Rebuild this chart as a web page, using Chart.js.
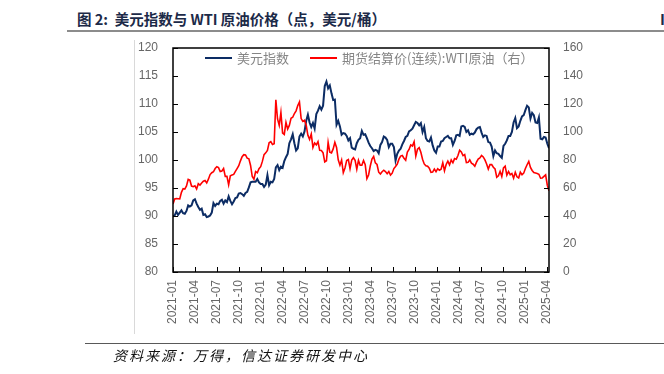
<!DOCTYPE html>
<html>
<head>
<meta charset="utf-8">
<script src="https://cdn.jsdelivr.net/npm/chart.js@4.4.1/dist/chart.umd.min.js"></script>
<style>
html, body { margin: 0; padding: 0; background: #fff; }
body { width: 664px; height: 374px; position: relative; overflow: hidden; font-family: "Noto Sans CJK SC", sans-serif; }
#title { position: absolute; left: 77px; top: 8px; font-size: 14.5px; font-weight: bold; color: #1c2a48; white-space: nowrap; }
#cut { position: absolute; left: 660px; top: 8px; font-size: 15px; font-weight: bold; color: #1c2a48; }
#topRule { position: absolute; left: 67px; top: 30px; width: 597px; height: 2px; background: #8c8c8c; }
#sideRule { position: absolute; left: 134px; top: 40px; width: 1px; height: 294px; background: #d9d9d9; }
#bottomRule { position: absolute; left: 85px; top: 343px; width: 579px; height: 1px; background: #595959; }
#source { position: absolute; left: 113px; top: 345px; font-size: 14px; letter-spacing: 2px; font-style: italic; color: #111; white-space: nowrap; }
#legend { position: absolute; left: 205px; top: 48px; font-size: 13px; color: #858585; white-space: nowrap; display: flex; align-items: center; }
#legend .key { display: inline-block; width: 27px; height: 2px; margin-right: 5px; }
#legend .txt { margin-right: 21px; }
canvas { position: absolute; left: 0; top: 0; }
</style>
</head>
<body>
<div id="title">图 2:&nbsp; 美元指数与 WTI 原油价格（点，美元/桶）</div>
<div id="cut">I</div>
<div id="topRule"></div>
<div id="sideRule"></div>
<canvas id="myChart" width="664" height="374"></canvas>
<div id="legend">
  <span class="key" style="background:#0c2c64"></span><span class="txt">美元指数</span>
  <span class="key" style="background:#ff0000"></span><span class="txt">期货结算价(连续):WTI原油（右）</span>
</div>
<div id="bottomRule"></div>
<div id="source">资料来源：万得，信达证券研发中心</div>

<script>
// 週次データ（2021-01-01 から毎週金曜日）
const seriesNames = ['美元指数', '期货结算价(连续):WTI原油（右）'];

const dxy = [
  // 2021
  89.9, 90.1, 90.8, 90.2, 90.6, 91.0, 90.5, 90.4, 90.9, 91.9,
  91.7, 91.9, 92.8, 93.0, 92.2, 91.6, 91.1, 91.3, 90.2, 90.3,
  89.8, 89.9, 90.1, 90.6, 92.3, 91.8, 92.2, 92.1, 92.7, 92.9,
  92.2, 92.8, 92.5, 93.5, 92.7, 92.1, 92.6, 93.2, 93.3, 94.0,
  94.1, 93.9, 93.6, 94.1, 94.3, 95.1, 96.0, 96.1, 96.1, 96.1,
  96.6, 96.0, 95.7,
  // 2022
  95.7, 95.2, 95.6, 97.3, 95.5, 96.1, 96.0, 96.6, 98.7, 99.1,
  98.2, 98.8, 98.6, 99.8, 100.5, 101.1, 103.0, 103.7, 104.6, 103.0,
  101.7, 102.1, 104.2, 104.7, 104.2, 105.1, 107.0, 108.1, 106.7, 105.9,
  106.6, 105.6, 108.2, 108.8, 109.6, 109.0, 109.7, 113.2, 114.0, 112.8,
  113.3, 111.9, 110.7, 110.8, 106.3, 107.0, 106.0, 104.5, 104.8, 104.7,
  104.3, 103.5,
  // 2023
  103.9, 102.2, 102.0, 101.9, 103.0, 103.6, 103.9, 105.2, 104.5, 104.6,
  103.9, 103.1, 102.5, 102.1, 101.6, 101.8, 101.7, 101.2, 102.7, 103.2,
  104.2, 104.0, 103.6, 102.3, 102.9, 102.9, 102.3, 99.9, 101.1, 101.7,
  102.0, 102.8, 103.4, 104.1, 104.3, 105.1, 105.3, 105.6, 106.2, 106.8,
  106.6, 106.2, 106.6, 105.0, 105.9, 103.9, 103.4, 103.3, 104.0, 102.6,
  101.7, 101.3,
  // 2024
  102.4, 102.4, 103.3, 103.4, 103.9, 104.1, 104.3, 103.9, 103.9, 102.7,
  103.4, 104.4, 104.5, 104.3, 106.0, 106.1, 105.9, 105.0, 105.3, 104.5,
  104.7, 104.6, 104.9, 105.5, 105.8, 105.9, 104.9, 104.1, 104.4, 104.3,
  103.2, 103.1, 102.4, 100.7, 101.7, 101.2, 101.1, 100.7, 100.4, 102.5,
  102.9, 103.5, 104.3, 104.3, 105.0, 106.7, 107.5, 105.7, 106.0, 107.0,
  107.8, 108.0,
  // 2025
  108.9, 109.7, 109.4, 107.4, 108.4, 108.0, 106.7, 106.6, 107.6, 103.8,
  103.7, 104.1, 104.0, 102.9, 102.1
];

const wti = [
  // 2021
  48.5, 52.2, 52.4, 52.3, 52.2, 56.9, 59.5, 59.2, 61.5, 66.1,
  65.6, 61.4, 60.9, 61.5, 59.3, 63.1, 62.1, 63.6, 64.9, 65.4,
  63.6, 66.3, 69.6, 70.9, 71.6, 73.9, 75.2, 74.6, 71.8, 72.1,
  73.9, 68.3, 68.4, 62.3, 68.7, 69.3, 69.7, 71.9, 73.9, 75.9,
  79.4, 82.3, 83.8, 83.6, 81.3, 80.8, 76.1, 68.2, 66.3, 71.7,
  70.9, 73.8, 75.2,
  // 2022
  79.0, 83.8, 85.1, 86.8, 92.3, 93.1, 91.1, 91.6, 123.0, 109.3,
  104.7, 113.9, 99.3, 98.3, 106.9, 102.1, 104.7, 109.8, 110.5, 113.2,
  115.1, 118.9, 121.5, 109.6, 107.6, 108.4, 104.8, 97.6, 94.7, 98.6,
  89.0, 92.1, 90.8, 93.1, 86.9, 86.8, 85.1, 78.7, 79.5, 92.6,
  85.6, 85.1, 87.9, 92.6, 89.0, 80.1, 76.3, 80.0, 71.0, 74.3,
  79.6, 80.3,
  // 2023
  73.8, 79.9, 81.6, 79.7, 73.4, 79.7, 76.3, 76.3, 79.7, 76.7,
  66.7, 69.3, 75.7, 80.7, 82.5, 77.9, 76.8, 71.3, 70.0, 71.6,
  72.7, 71.7, 70.2, 71.8, 69.2, 70.6, 73.9, 75.4, 77.1, 80.6,
  82.8, 83.2, 81.3, 79.8, 85.6, 87.5, 90.8, 90.0, 93.0, 82.8,
  87.7, 88.8, 85.5, 80.5, 77.2, 75.9, 75.5, 74.1, 71.2, 71.4,
  73.6, 71.7,
  // 2024
  73.8, 72.7, 73.4, 78.0, 72.3, 76.8, 79.2, 76.5, 80.0, 78.0,
  81.0, 80.6, 83.2, 86.9, 85.7, 83.1, 83.9, 78.1, 78.3, 80.1,
  77.7, 77.0, 75.5, 78.5, 80.7, 81.5, 83.2, 82.2, 80.1, 77.2,
  73.5, 76.8, 76.7, 74.8, 73.6, 67.7, 68.7, 71.9, 68.2, 74.4,
  75.6, 69.2, 71.8, 69.5, 70.4, 67.0, 71.2, 68.0, 67.2, 71.3,
  69.5, 70.6,
  // 2025
  73.9, 76.6, 79.0, 74.7, 72.5, 71.0, 70.7, 70.4, 69.8, 67.0,
  67.2, 68.3, 69.4, 62.0, 58.0
];

// x軸の目盛り（四半期ごと）
const quarterLabels = [
  '2021-01', '2021-04', '2021-07', '2021-10',
  '2022-01', '2022-04', '2022-07', '2022-10',
  '2023-01', '2023-04', '2023-07', '2023-10',
  '2024-01', '2024-04', '2024-07', '2024-10',
  '2025-01', '2025-04'
];

const weekInMonths = 7 / 30.4375;   // 1週 = 何か月
const xMax = (dxy.length - 1) * weekInMonths;

const toPoints = arr => arr.map((v, i) => ({ x: i * weekInMonths, y: v }));

const tickColor = '#666';
const tickFont = { family: 'Liberation Sans', size: 12 };

// 枠線と内向きの目盛り線
const frameTicks = {
  id: 'frameTicks',
  afterDatasetsDraw(chart) {
    const { ctx, chartArea: a, scales } = chart;
    ctx.save();
    ctx.strokeStyle = '#000';
    ctx.lineWidth = 1;
    ctx.beginPath();
    scales.y.ticks.forEach(t => {
      const p = Math.round(scales.y.getPixelForValue(t.value)) + 0.5;
      ctx.moveTo(a.left, p); ctx.lineTo(a.left + 5, p);
    });
    scales.y1.ticks.forEach(t => {
      const p = Math.round(scales.y1.getPixelForValue(t.value)) + 0.5;
      ctx.moveTo(a.right - 5, p); ctx.lineTo(a.right, p);
    });
    scales.x.ticks.forEach(t => {
      const p = Math.round(scales.x.getPixelForValue(t.value)) + 0.5;
      ctx.moveTo(p, a.bottom); ctx.lineTo(p, a.bottom - 5);
    });
    ctx.stroke();
    ctx.lineWidth = 1.5;
    ctx.strokeRect(a.left, a.top, a.right - a.left, a.bottom - a.top);
    ctx.restore();
  }
};

const ctx = document.getElementById('myChart').getContext('2d');
new Chart(ctx, {
  type: 'line',
  data: {
    datasets: [
      {
        label: seriesNames[0],
        data: toPoints(dxy),
        borderColor: '#0c2c64',
        backgroundColor: '#0c2c64',
        borderWidth: 2,
        pointRadius: 0,
        tension: 0,
        yAxisID: 'y',
        order: 1
      },
      {
        label: seriesNames[1],
        data: toPoints(wti),
        borderColor: '#ff0000',
        backgroundColor: '#ff0000',
        borderWidth: 1.6,
        pointRadius: 0,
        tension: 0,
        yAxisID: 'y1',
        order: 0
      }
    ]
  },
  options: {
    responsive: false,
    animation: false,
    devicePixelRatio: 1,
    events: [],
    layout: { padding: { top: 48, left: 0, right: 0, bottom: 0 } },
    plugins: {
      legend: { display: false },
      tooltip: { enabled: false }
    },
    scales: {
      x: {
        type: 'linear',
        min: 0,
        max: xMax,
        grid: { display: false, drawTicks: false },
        border: { display: false },
        ticks: {
          stepSize: 3,
          includeBounds: false,
          autoSkip: false,
          minRotation: 90,
          maxRotation: 90,
          padding: 8,
          color: tickColor,
          font: tickFont,
          callback: (v, i) => quarterLabels[i]
        },
        afterFit: s => { s.height = 102; }
      },
      y: {
        type: 'linear',
        position: 'left',
        min: 80,
        max: 120,
        grid: { display: false, drawTicks: false },
        border: { display: false },
        ticks: { stepSize: 5, padding: 15, color: tickColor, font: tickFont },
        afterFit: s => { s.width = 173; }
      },
      y1: {
        type: 'linear',
        position: 'right',
        min: 0,
        max: 160,
        grid: { display: false, drawTicks: false },
        border: { display: false },
        ticks: { stepSize: 20, padding: 14, color: tickColor, font: tickFont },
        afterFit: s => { s.width = 115; }
      }
    }
  },
  plugins: [frameTicks]
});
</script>
</body>
</html>
